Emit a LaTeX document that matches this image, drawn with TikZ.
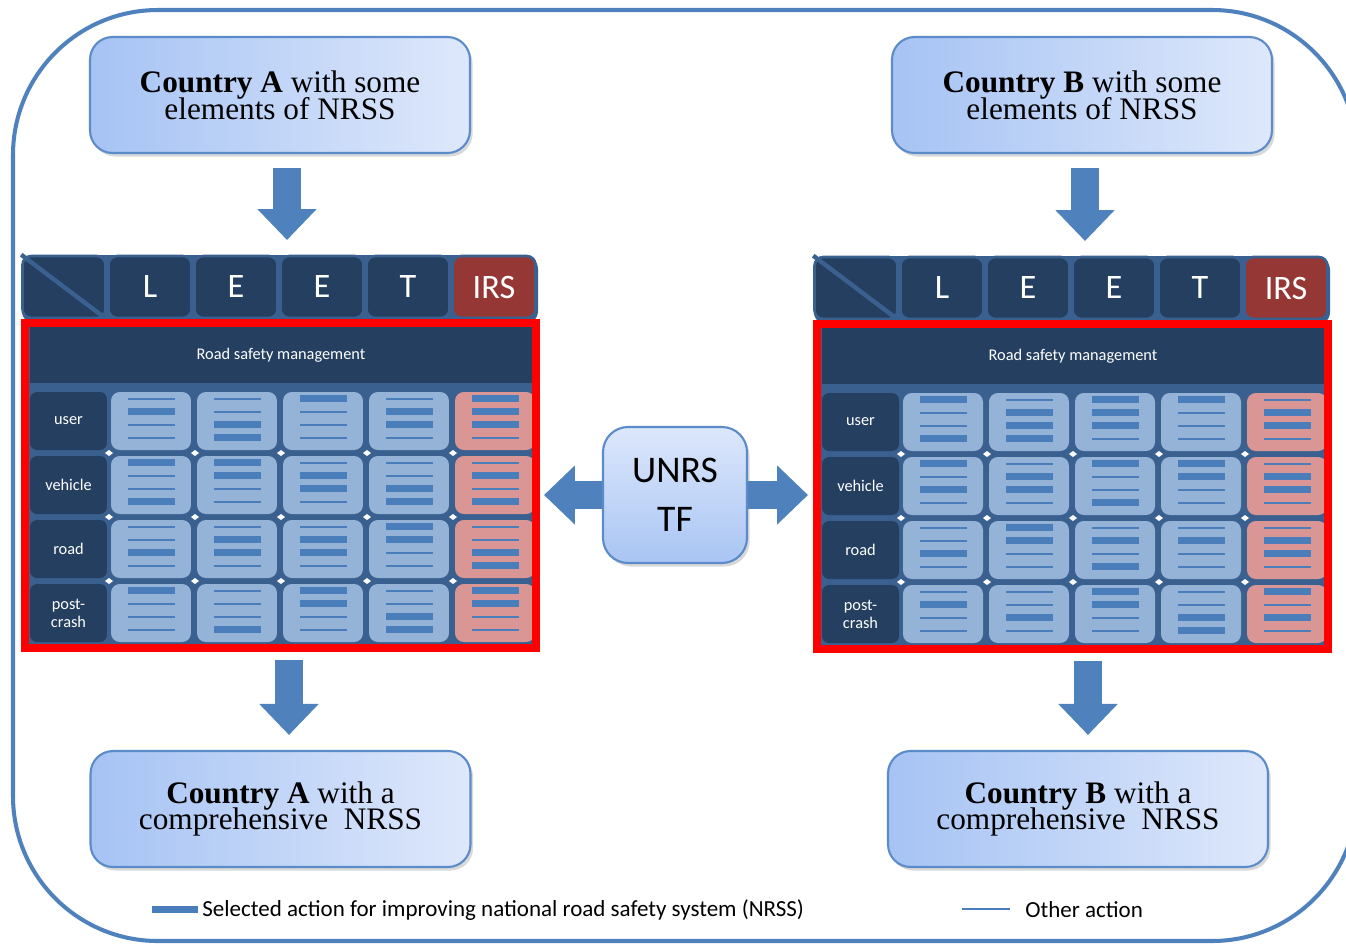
\documentclass[tikz,border=0pt]{standalone}
\usepackage{fontspec}
\setmainfont{Liberation Serif}
\newfontfamily\calibri{Carlito}
\usetikzlibrary{calc,arrows.meta,shadows}

\definecolor{frameblue}{HTML}{4F81BD}
\definecolor{arrowblue}{HTML}{4F81BD}
\definecolor{navy}{HTML}{243F60}
\definecolor{gridbg}{HTML}{3A6090}
\definecolor{cellblue}{HTML}{95B3D7}
\definecolor{cellred}{HTML}{D99694}
\definecolor{irsred}{HTML}{953735}
\definecolor{barblue}{HTML}{4A7EBB}
\definecolor{boxedge}{HTML}{5B8BC8}
\definecolor{boxl}{HTML}{A6C3F4}
\definecolor{boxr}{HTML}{DEE8FB}
\definecolor{unrstop}{HTML}{DCE7FB}
\definecolor{unrsbot}{HTML}{A9C5F4}

\tikzset{
  outerframe/.style={draw=frameblue,line width=2.3pt,rounded corners=2.9cm},
  country/.style={draw=boxedge,line width=1.2pt,left color=boxl,right color=boxr,rounded corners=0.45cm,
    minimum width=7.6cm,minimum height=2.32cm,align=center,
    font={\fontsize{17.8}{15.3}\selectfont\lineskiplimit=-20pt},
    drop shadow={shadow xshift=1.5pt,shadow yshift=-2pt,opacity=0.3}},
  unrs/.style={draw=boxedge,line width=1.2pt,top color=unrstop,bottom color=unrsbot,rounded corners=0.5cm,
    minimum width=2.88cm,minimum height=2.72cm,align=center,font=\calibri\fontsize{21.4}{28}\selectfont,
    drop shadow={shadow xshift=1.5pt,shadow yshift=-2pt,opacity=0.3}},
  blockarrow/.style={draw=arrowblue,line width=0.57cm,-{Triangle[width=1.15cm,length=0.62cm]}},
  tile/.style={draw=gridbg,line width=1.5pt,rounded corners=5pt,minimum width=1.66cm,minimum height=1.24cm,
    inner sep=0pt,text=white,font=\calibri\fontsize{19.5}{20}\selectfont},
  rsm/.style={fill=navy,minimum width=10.04cm,minimum height=1.12cm,inner sep=0pt,text=white,
    font=\calibri\fontsize{9.3}{11}\selectfont},
  rowlab/.style={fill=navy,rounded corners=4pt,minimum width=1.54cm,minimum height=1.16cm,inner sep=0pt,
    text=white,align=center,font=\calibri\fontsize{9.3}{10.2}\selectfont},
  cell/.style={rounded corners=5pt,minimum width=1.6cm,minimum height=1.16cm,inner sep=0pt},
  redframe/.style={draw=red,line width=4.5pt},
  selbar/.style={barblue,line width=4pt},
  othbar/.style={barblue,line width=1.2pt},
  legend/.style={font=\calibri\fontsize{13.1}{14}\selectfont,anchor=west,inner sep=0pt}
}

% one LEET matrix: #1 name, #2 #3 top left corner (px)
\newcommand{\leetgrid}[3]{%
  \begin{scope}[shift={(#2,#3)}]
    % Header
    \fill[gridbg,rounded corners=8pt] (0,0) rectangle (516,70);
    \foreach \h/\tc [count=\k from 0] in {{}/navy,L/navy,E/navy,E/navy,T/navy,IRS/irsred}
      \node[tile,fill=\tc] (#1-h\k) at (42+86*\k,32) {\h};
    \draw[gridbg,line width=2.5pt] (#1-h0.north west) -- (#1-h0.south east);
    % Matrix
    \fill[gridbg] (3,68) rectangle (514,393);
    \node[rsm] (#1-rsm) at (259,100) {Road safety management};
    \foreach \lab [count=\j] in {user,vehicle,road,{post-\\crash}}
      \node[rowlab] (#1-r\j) at (46.5,{166+64*(\j-1)}) {\lab};
    \foreach \j in {1,...,4}
      \foreach \i in {1,...,5} {
        \ifnum\i=5 \def\cf{cellred}\else\def\cf{cellblue}\fi
        \node[cell,fill=\cf] (#1-\j-\i) at ({129+86*(\i-1)},{166+64*(\j-1)}) {};
      }
    \foreach \j in {1,2,3}
      \foreach \i in {1,...,5}
        \fill[white] ({87+86*(\i-1)},{198+64*(\j-1)}) +(-4,0) -- +(0,-3) -- +(4,0) -- +(0,3) -- cycle;
    \draw[redframe] (3,68) rectangle (514,393);
    \coordinate (#1-top) at (258,0);
    \coordinate (#1-bot) at (258,397);
    \coordinate (#1-east) at (522,240);
    \coordinate (#1-west) at (-6,240);
  \end{scope}}

% action bars of a matrix, 0 = other, 1 = selected
\newcommand{\cellbars}[2]{%
  \foreach \row [count=\j] in {#2}
    \foreach \pat [count=\i] in \row
      \foreach \bw [count=\k] in \pat
        \fill[barblue] ($(#1-\j-\i.north)+(-23.5,{13*\k-7-2.5*\bw})$) rectangle +(47,{2+5*\bw});
}

\begin{document}
\begin{tikzpicture}[x=0.02cm,y=-0.02cm]
  \useasboundingbox (0,0) rectangle (1346,944);
  \draw[outerframe] (13,10) rectangle (1357,941);

  % Countries before
  \node[country] (topA) at (280,95) {\textbf{Country A} with some\\elements of NRSS};
  \node[country] (topB) at (1082,95) {\textbf{Country B} with some\\elements of NRSS};

  % Matrices
  \leetgrid{A}{22}{255}
  \leetgrid{B}{814}{256}
  \cellbars{A}{{{0,1,0,0},{0,0,1,1},{1,0,0,0},{0,1,1,0},{1,1,1,0}},
               {{1,0,0,1},{1,1,0,0},{0,1,1,0},{0,0,1,1},{0,1,0,1}},
               {{0,0,1,0},{0,1,1,0},{0,1,1,0},{1,1,0,0},{0,0,1,1}},
               {{1,0,0,0},{0,0,0,1},{1,1,0,0},{0,0,1,1},{1,1,0,0}}}
  \cellbars{B}{{{1,0,0,1},{0,1,1,1},{1,1,1,0},{1,0,0,0},{0,1,1,0}},
               {{1,0,1,0},{0,1,1,0},{1,0,0,1},{1,1,0,0},{0,1,1,0}},
               {{0,0,1,0},{1,1,0,0},{0,1,0,1},{0,1,0,0},{0,1,1,0}},
               {{0,1,0,0},{0,0,1,0},{1,1,0,0},{0,0,1,1},{1,0,1,0}}}

  % Task force
  \node[unrs] (unrs) at (675,495) {UNRS\\TF};
  \draw[blockarrow] (unrs.west) -- (unrs.west -| A-east);
  \draw[blockarrow] (unrs.east) -- (unrs.east -| B-west);

  % Countries after
  \node[country] (botA) at (280.5,809) {\textbf{Country A} with a\\comprehensive\ \ NRSS};
  \node[country] (botB) at (1078,809) {\textbf{Country B} with a\\comprehensive\ \ NRSS};

  % Arrows
  \draw[blockarrow] ($(topA.south)+(7,14)$) -- ($(topA.south |- A-top)+(7,-15)$);
  \draw[blockarrow] ($(topB.south)+(3,14)$) -- ($(topB.south |- B-top)+(3,-15)$);
  \draw[blockarrow] ($(botA.north |- A-bot)+(8.5,8)$) -- ($(botA.north)+(8.5,-15)$);
  \draw[blockarrow] ($(botB.north |- B-bot)+(10,8)$) -- ($(botB.north)+(10,-15)$);

  % Legend
  \coordinate (selstart) at (152,909);
  \coordinate (selend) at (198,909);
  \node[legend] (legsel) at (202,910) {Selected action for improving national road safety system (NRSS)};
  \draw[selbar] (selstart) -- (selend);
  \coordinate (othstart) at (962,909);
  \coordinate (othend) at (1010,909);
  \node[legend] (legoth) at (1025,910) {Other action};
  \draw[othbar] (othstart) -- (othend);
\end{tikzpicture}
\end{document}
